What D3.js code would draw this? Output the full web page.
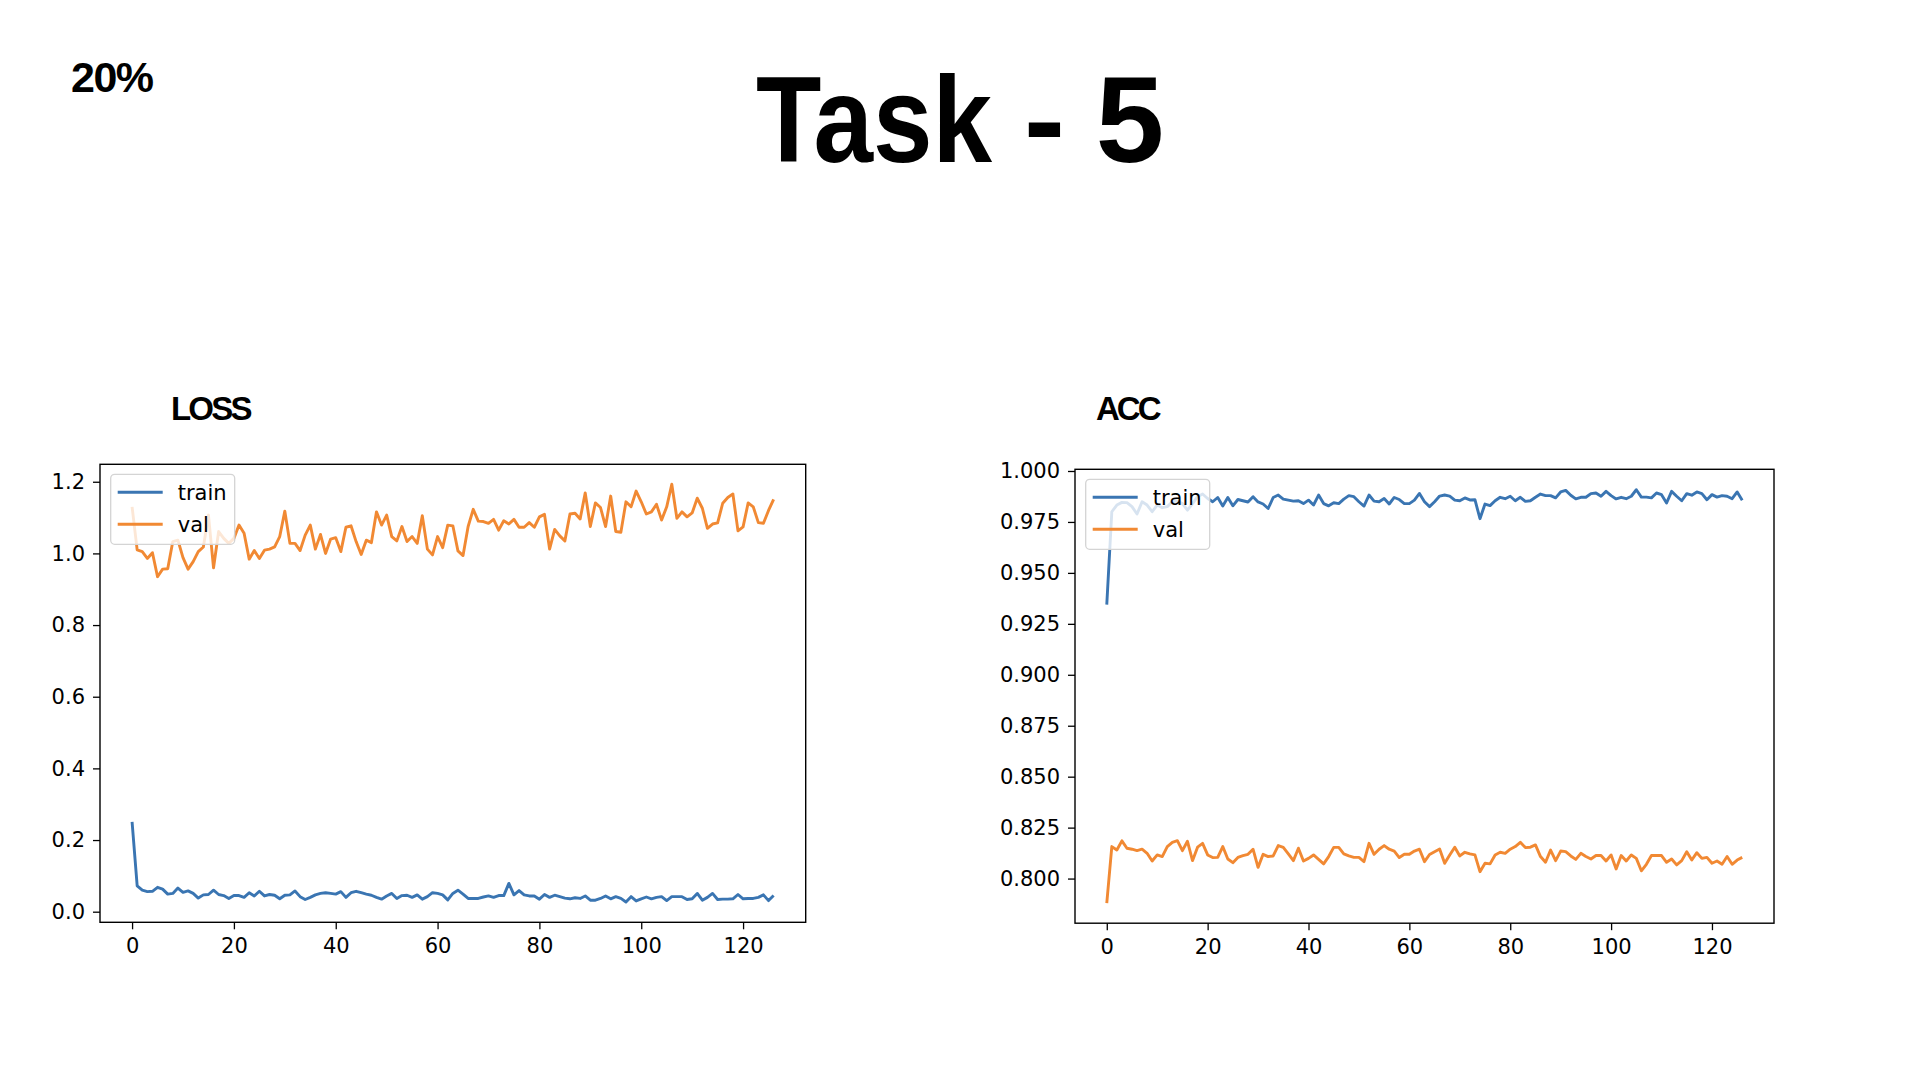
<!DOCTYPE html>
<html>
<head>
<meta charset="utf-8">
<script src="https://cdn.jsdelivr.net/npm/d3@7"></script>
<style>
  html, body { margin: 0; padding: 0; background: #fff; }
  svg { display: block; }
  .tick text { font-family: "DejaVu Sans", sans-serif; font-size: 21px; fill: #000; }
  .tick line { stroke: #000; stroke-width: 1.3; }
  .head { font-family: "Liberation Sans", Arial, Helvetica, sans-serif; font-weight: bold; fill: #000; }
  .leg { font-family: "DejaVu Sans", sans-serif; font-size: 21px; fill: #000; }
</style>
</head>
<body>
<svg id="slide" width="1920" height="1080"></svg>
<script>
// ---- data ----
const epochs = d3.range(0, 127);

const lossTrain = [0.251,0.072,0.060,0.056,0.057,0.068,0.063,0.049,0.051,0.066,
  0.054,0.058,0.051,0.038,0.047,0.048,0.060,0.048,0.045,0.037,
  0.045,0.045,0.040,0.053,0.044,0.057,0.044,0.048,0.046,0.036,
  0.046,0.047,0.058,0.042,0.034,0.040,0.047,0.051,0.053,0.051,
  0.049,0.056,0.040,0.053,0.057,0.053,0.049,0.046,0.040,0.035,
  0.044,0.051,0.037,0.045,0.046,0.040,0.047,0.035,0.042,0.053,
  0.051,0.047,0.033,0.051,0.060,0.049,0.037,0.037,0.037,0.041,
  0.044,0.040,0.045,0.045,0.079,0.047,0.059,0.047,0.044,0.044,
  0.035,0.048,0.040,0.046,0.042,0.038,0.036,0.039,0.037,0.044,
  0.032,0.032,0.037,0.044,0.036,0.042,0.037,0.027,0.042,0.030,
  0.036,0.041,0.036,0.040,0.042,0.031,0.042,0.042,0.042,0.034,
  0.036,0.051,0.032,0.040,0.051,0.034,0.035,0.035,0.036,0.048,
  0.036,0.037,0.037,0.040,0.047,0.031,0.045];

const lossVal = [1.130,1.010,1.005,0.986,1.002,0.935,0.956,0.957,1.033,1.037,
  0.988,0.956,0.977,1.005,1.018,1.107,0.960,1.061,1.042,1.028,
  1.042,1.079,1.056,0.984,1.008,0.986,1.009,1.012,1.018,1.047,
  1.118,1.028,1.028,1.008,1.051,1.079,1.012,1.053,1.000,1.040,
  1.044,1.005,1.073,1.077,1.033,0.997,1.037,1.030,1.116,1.079,
  1.107,1.047,1.035,1.075,1.033,1.047,1.028,1.105,1.012,0.996,
  1.047,1.016,1.079,1.077,1.007,0.994,1.075,1.123,1.090,1.089,
  1.084,1.095,1.065,1.091,1.082,1.095,1.073,1.073,1.086,1.073,
  1.102,1.109,1.012,1.067,1.049,1.035,1.110,1.112,1.096,1.169,
  1.075,1.141,1.128,1.075,1.160,1.061,1.059,1.144,1.130,1.174,
  1.144,1.110,1.116,1.137,1.093,1.130,1.193,1.098,1.116,1.102,
  1.113,1.154,1.126,1.070,1.082,1.085,1.140,1.156,1.166,1.063,
  1.074,1.141,1.130,1.086,1.084,1.120,1.151];

const accTrain = [0.9344,0.9800,0.9833,0.9846,0.9845,0.9825,0.9789,0.9849,0.9833,0.9800,
  0.9833,0.9820,0.9825,0.9849,0.9852,0.9840,0.9808,0.9840,0.9874,0.9887,
  0.9865,0.9849,0.9870,0.9828,0.9870,0.9829,0.9860,0.9854,0.9848,0.9874,
  0.9848,0.9838,0.9816,0.9870,0.9882,0.9862,0.9857,0.9852,0.9854,0.9840,
  0.9857,0.9833,0.9882,0.9840,0.9829,0.9844,0.9840,0.9862,0.9879,0.9874,
  0.9849,0.9828,0.9882,0.9852,0.9849,0.9865,0.9838,0.9870,0.9860,0.9840,
  0.9840,0.9857,0.9890,0.9849,0.9825,0.9849,0.9877,0.9882,0.9877,0.9857,
  0.9854,0.9868,0.9858,0.9859,0.9766,0.9838,0.9830,0.9854,0.9871,0.9864,
  0.9876,0.9854,0.9871,0.9851,0.9854,0.9871,0.9887,0.9879,0.9879,0.9868,
  0.9897,0.9905,0.9881,0.9863,0.9871,0.9871,0.9889,0.9892,0.9876,0.9900,
  0.9879,0.9863,0.9871,0.9864,0.9876,0.9908,0.9872,0.9872,0.9868,0.9892,
  0.9884,0.9843,0.9900,0.9876,0.9854,0.9889,0.9881,0.9897,0.9889,0.9859,
  0.9884,0.9872,0.9879,0.9876,0.9864,0.9897,0.9856];

const accVal = [0.7879,0.8157,0.8140,0.8185,0.8149,0.8144,0.8137,0.8144,0.8124,0.8086,
  0.8116,0.8108,0.8157,0.8178,0.8186,0.8137,0.8183,0.8088,0.8154,0.8173,
  0.8116,0.8103,0.8104,0.8157,0.8096,0.8078,0.8104,0.8113,0.8119,0.8144,
  0.8055,0.8119,0.8108,0.8111,0.8162,0.8153,0.8121,0.8088,0.8149,0.8086,
  0.8099,0.8116,0.8094,0.8072,0.8108,0.8153,0.8153,0.8121,0.8111,0.8104,
  0.8104,0.8083,0.8173,0.8119,0.8144,0.8162,0.8144,0.8135,0.8103,0.8119,
  0.8119,0.8135,0.8144,0.8083,0.8118,0.8132,0.8145,0.8075,0.8116,0.8154,
  0.8111,0.8129,0.8121,0.8116,0.8034,0.8075,0.8072,0.8116,0.8129,0.8124,
  0.8144,0.8157,0.8178,0.8152,0.8154,0.8165,0.8108,0.8080,0.8140,0.8088,
  0.8135,0.8132,0.8111,0.8094,0.8124,0.8108,0.8096,0.8113,0.8113,0.8086,
  0.8116,0.8047,0.8113,0.8086,0.8116,0.8099,0.8038,0.8070,0.8113,0.8113,
  0.8113,0.8080,0.8096,0.8067,0.8088,0.8132,0.8091,0.8127,0.8099,0.8104,
  0.8075,0.8086,0.8070,0.8108,0.8070,0.8091,0.8104];

const xTicks = [0, 20, 40, 60, 80, 100, 120];
const lossTicks = [0.0, 0.2, 0.4, 0.6, 0.8, 1.0, 1.2];
const accTicks = [0.800, 0.825, 0.850, 0.875, 0.900, 0.925, 0.950, 0.975, 1.000];
const seriesNames = ['train', 'val'];

const COLORS = { train: '#3a75b2', val: '#f18933' };

const svg = d3.select('#slide');

// ---- slide headings ----
svg.append('text').attr('class', 'head')
  .attr('x', 71).attr('y', 92)
  .style('font-size', '43px').style('letter-spacing', '-1.5px')
  .text('20%');

// title: the slide font is narrower than Arial, so squeeze "Task" and place the rest
const title = svg.append('g').attr('class', 'head').style('font-size', '123px');
title.append('text').attr('class', 'head')
  .attr('x', 756).attr('y', 162)
  .attr('textLength', 236).attr('lengthAdjust', 'spacingAndGlyphs')
  .text('Task');
title.append('text').attr('class', 'head')
  .attr('x', 1044.5).attr('y', 162).attr('text-anchor', 'middle')
  .text('-');
title.append('text').attr('class', 'head')
  .attr('x', 1130).attr('y', 162).attr('text-anchor', 'middle')
  .text('5');

// ---- one matplotlib-like panel ----
function drawPanel(opt) {
  const x = d3.scaleLinear().domain([-6.3, 132.3]).range([opt.left, opt.right]);
  const y = d3.scaleLinear().domain(opt.yDomain).range([opt.bottom, opt.top]);

  const g = svg.append('g');

  // panel label
  g.append('text').attr('class', 'head')
    .attr('x', opt.labelX).attr('y', 420)
    .style('font-size', '33px').style('letter-spacing', opt.labelSpacing)
    .text(opt.label);

  // lines
  const line = d3.line().x((d, i) => x(epochs[i])).y(d => y(d));
  opt.series.forEach((s, k) => {
    g.append('path')
      .datum(s)
      .attr('fill', 'none')
      .attr('stroke', COLORS[seriesNames[k]])
      .attr('stroke-width', 2.9)
      .attr('stroke-linejoin', 'round')
      .attr('d', line);
  });

  // axes
  g.append('g')
    .attr('transform', `translate(0,${opt.bottom})`)
    .call(d3.axisBottom(x).tickValues(xTicks).tickSize(7).tickPadding(8).tickFormat(d3.format('d')))
    .call(a => a.select('.domain').remove())
    .selectAll('text').attr('dy', '0.75em');

  g.append('g')
    .attr('transform', `translate(${opt.left},0)`)
    .call(d3.axisLeft(y).tickValues(opt.yTicks).tickSize(7).tickPadding(8).tickFormat(d3.format(opt.fmt)))
    .call(a => a.select('.domain').remove());

  // spines
  g.append('rect')
    .attr('x', opt.left).attr('y', opt.top)
    .attr('width', opt.right - opt.left).attr('height', opt.bottom - opt.top)
    .attr('fill', 'none').attr('stroke', '#000').attr('stroke-width', 1.4);

  // legend
  const lx = opt.left + 10.7, ly = opt.top + 10;
  const leg = g.append('g').attr('transform', `translate(${lx},${ly})`);
  leg.append('rect')
    .attr('width', 124).attr('height', 70).attr('rx', 4)
    .attr('fill', '#fff').attr('fill-opacity', 0.8)
    .attr('stroke', '#d4d4d4').attr('stroke-width', 1.3);
  seriesNames.forEach((name, k) => {
    const yy = 18 + k * 32;
    leg.append('line')
      .attr('x1', 7).attr('x2', 52).attr('y1', yy).attr('y2', yy)
      .attr('stroke', COLORS[name]).attr('stroke-width', 2.9);
    leg.append('text').attr('class', 'leg')
      .attr('x', 67).attr('y', yy + 7.5)
      .text(name);
  });
}

drawPanel({
  label: 'LOSS', labelX: 171, labelSpacing: '-2.8px',
  left: 100, right: 805.7, top: 464.3, bottom: 922.3,
  yDomain: [-0.0296, 1.2487], yTicks: lossTicks, fmt: '.1f',
  series: [lossTrain, lossVal]
});

drawPanel({
  label: 'ACC', labelX: 1096, labelSpacing: '-3px',
  left: 1075, right: 1774, top: 469.3, bottom: 923.2,
  yDomain: [0.7781, 1.00083], yTicks: accTicks, fmt: '.3f',
  series: [accTrain, accVal]
});
</script>
</body>
</html>
